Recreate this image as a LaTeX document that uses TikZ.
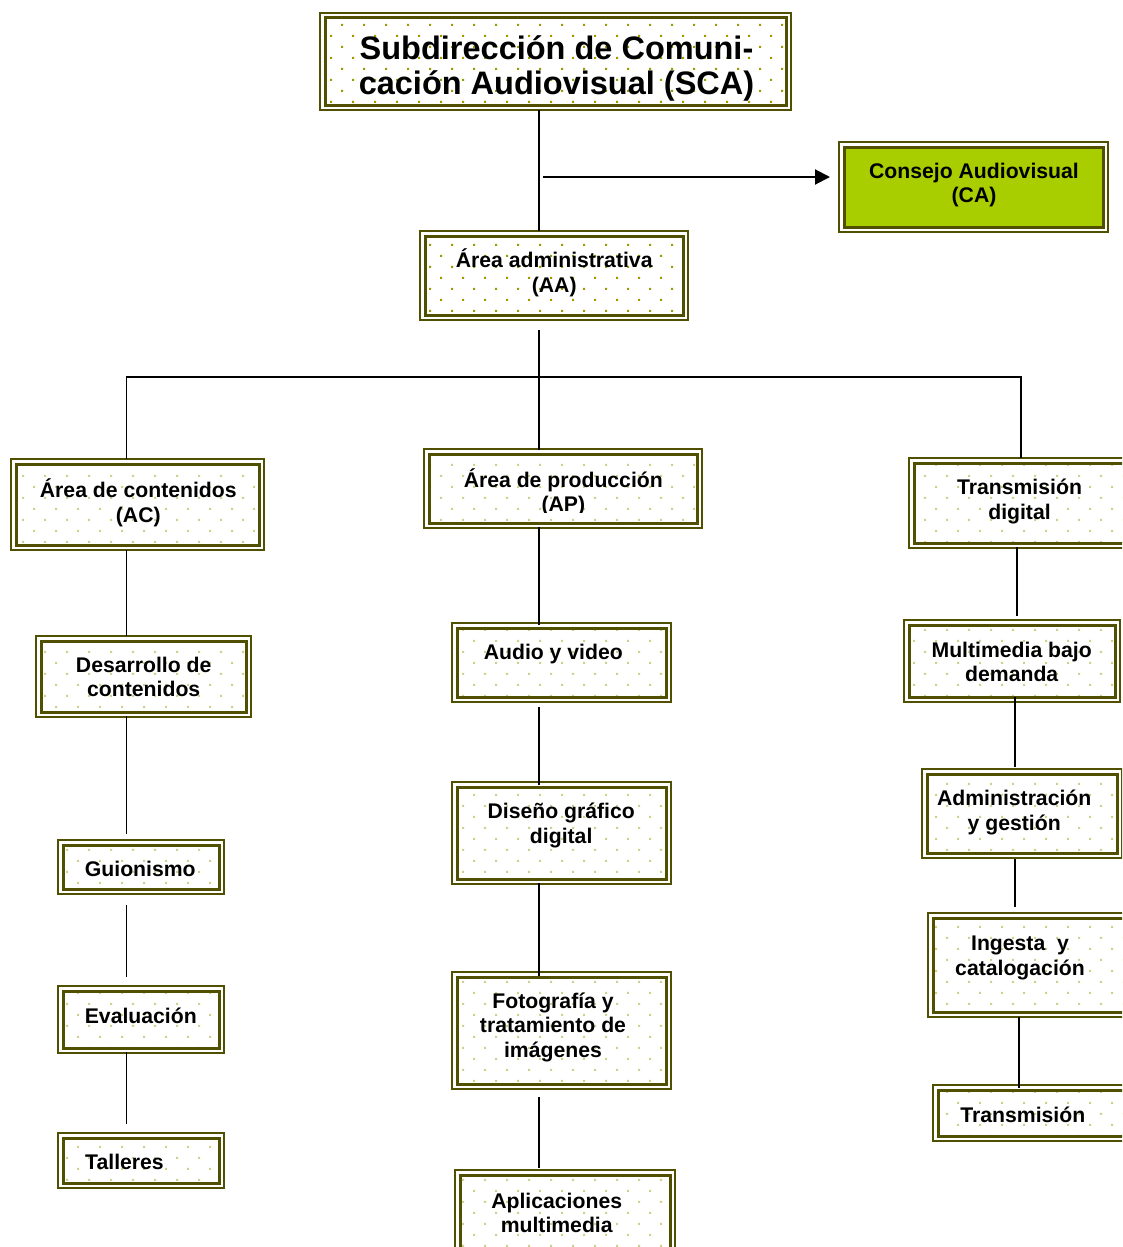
\documentclass[tikz,border=0pt]{standalone}
\usepackage{fontspec}
\setmainfont{Liberation Sans}
\usetikzlibrary{patterns,arrows.meta}
\definecolor{olv}{RGB}{80,80,0}
\definecolor{dotlight}{RGB}{208,208,140}
\definecolor{dotdark}{RGB}{155,155,0}
\definecolor{cagreen}{RGB}{168,206,0}
\pgfdeclarepatternformonly{sdots}{\pgfqpoint{-1pt}{-1pt}}{\pgfqpoint{23pt}{23pt}}{\pgfqpoint{22pt}{22pt}}{%
  \pgfpathrectangle{\pgfqpoint{0pt}{0pt}}{\pgfqpoint{2pt}{2pt}}%
  \pgfpathrectangle{\pgfqpoint{11pt}{11pt}}{\pgfqpoint{2pt}{2pt}}%
  \pgfusepath{fill}}
\tikzset{
  box/.style={rectangle, draw=olv, line width=3pt, inner sep=0pt, outer sep=0pt,
    preaction={fill=white}, pattern=sdots, pattern color=dotlight},
  darkbox/.style={box, pattern color=dotdark},
  cabox/.style={rectangle, draw=olv, line width=3pt, inner sep=0pt, outer sep=0pt, fill=cagreen},
  frame/.style={draw=olv, line width=1.2pt},
  lbl/.style={font=\fontsize{21.2}{24.5}\selectfont\bfseries, align=center, inner sep=0pt},
  title/.style={font=\fontsize{32.5}{35}\selectfont\bfseries, align=center, inner sep=0pt},
  conn/.style={line width=1.5pt, draw=black},
}
\newcommand{\bx}[6]{\node[#1, minimum width=#4pt, minimum height=#5pt] (#6) at (#2,#3) {};}
\begin{document}
\begin{tikzpicture}[x=1pt,y=-1pt]
\useasboundingbox (0,0) rectangle (1122,1247);
\clip (0,0) rectangle (1122,1247);
\fill[white] (0,0) rectangle (1122,1247);

% boxes (inner thick border)
\bx{darkbox}{555.5}{61.5}{461}{87}{sca}
\bx{cabox}{973.5}{187}{259}{80}{ca}
\bx{darkbox}{554}{275.5}{258}{79}{aa}
\bx{box}{137.5}{504.5}{243}{81}{ac}
\bx{box}{563}{488.5}{268}{69}{ap}
\bx{box}{1019.5}{503}{211}{80}{td}
\bx{box}{143.5}{676.5}{205}{71}{des}
\bx{box}{561.5}{662.5}{209}{69}{aud}
\bx{box}{1012}{661}{206}{72}{mul}
\bx{box}{141}{867}{156}{44}{gui}
\bx{box}{561.5}{833}{209}{92}{dis}
\bx{box}{1022}{813.5}{190}{79}{adm}
\bx{box}{141}{1019.5}{156}{57}{eva}
\bx{box}{561.5}{1030.5}{209}{107}{fot}
\bx{box}{1029}{965}{192}{94}{ing}
\bx{box}{141}{1160.5}{156}{45}{tal}
\bx{box}{565}{1214}{210}{78}{apl}
\bx{box}{1031.5}{1113}{187}{46}{tra}

% outer thin frames
\foreach \n in {sca,ca,aa,ac,ap,td,des,aud,mul,gui,dis,adm,eva,fot,ing,tal,apl,tra}
  \draw[frame] ([shift={(-5pt,5pt)}]\n.north west) rectangle ([shift={(5pt,-5pt)}]\n.south east);

% texts
\node[title] (t-sca) at (556.5,70) {\strut Subdirección de Comuni-\\\strut cación Audiovisual (SCA)};
\node[lbl] (t-ca) at (974,185.8) {\strut Consejo Audiovisual\\\strut (CA)};
\node[lbl] (t-aa) at (554.2,274.2) {\strut Área administrativa\\\strut (AA)};
\node[lbl] (t-ac) at (138.3,504.2) {\strut Área de contenidos\\\strut (AC)};
\begin{scope}
\clip (424,449) rectangle (702,512);
\node[lbl] (t-ap) at (563.3,493.8) {\strut Área de producción\\\strut (AP)};
\end{scope}
\node[lbl] (t-td) at (1019.5,502) {\strut Transmisión\\\strut digital};
\node[lbl] (t-des) at (143.7,679.7) {\strut Desarrollo de\\\strut contenidos};
\node[lbl] (t-aud) at (553.3,655) {\strut Audio y video};
\node[lbl] (t-mul) at (1011.7,664.5) {\strut Multimedia bajo\\\strut demanda};
\node[lbl] (t-gui) at (140.3,871.7) {\strut Guionismo};
\node[lbl] (t-dis) at (561.2,826) {\strut Diseño gráfico\\\strut digital};
\node[lbl] (t-adm) at (1014.2,813.3) {\strut Administración\\\strut y gestión};
\node[lbl] (t-eva) at (140.8,1019) {\strut Evaluación};
\node[lbl] (t-fot) at (553,1028) {\strut Fotografía y\\\strut tratamiento de\\\strut imágenes};
\node[lbl] (t-ing) at (1020,958.3) {\strut Ingesta\ \ y\\\strut catalogación};
\node[lbl] (t-tal) at (124.5,1165) {\strut Talleres};
\node[lbl] (t-apl) at (556.7,1215.5) {\strut Aplicaciones\\\strut multimedia};
\node[lbl] (t-tra) at (1022.8,1117.7) {\strut Transmisión};

% column coordinates
\coordinate (cL) at (126.5,0);
\coordinate (cM) at (539,0);
\coordinate (cR) at (1021,0);
\coordinate (cR1) at (1017,0);
\coordinate (cR2) at (1015,0);
\coordinate (cR3) at (1019,0);
\coordinate (hb) at (539,377);
\coordinate (arr) at (543,177);

% connectors
\draw[conn, shorten <=5pt, shorten >=5pt] (sca.south -| cM) -- (aa.north -| cM);
\draw[conn, line width=2pt, -{Triangle[length=15pt,width=15pt]}, shorten >=14pt] (arr) -- (arr -| ca.west);
\draw[conn, shorten <=15pt, shorten >=4pt] (aa.south -| cM) -- (ap.north -| cM);
\draw[conn, shorten <=5pt, shorten >=5pt] (ac.north -| cL) -- (cL |- hb) -- (cR |- hb) -- (td.north -| cR);
% left column
\draw[conn, shorten <=5pt, shorten >=5pt] (ac.south -| cL) -- (des.north -| cL);
\draw[conn, shorten <=4pt, shorten >=11pt] (des.south -| cL) -- (gui.north -| cL);
\draw[conn, shorten <=16pt, shorten >=14pt] (gui.south -| cL) -- (eva.north -| cL);
\draw[conn, shorten <=4pt, shorten >=14pt] (eva.south -| cL) -- (tal.north -| cL);
% middle column
\draw[conn, shorten <=4pt, shorten >=3pt] (ap.south -| cM) -- (aud.north -| cM);
\draw[conn, shorten <=10pt, shorten >=2pt] (aud.south -| cM) -- (dis.north -| cM);
\draw[conn, shorten <=4pt, shorten >=1pt] (dis.south -| cM) -- (fot.north -| cM);
\draw[conn, shorten <=13pt, shorten >=7pt] (fot.south -| cM) -- (apl.north -| cM);
% right column
\draw[conn, shorten <=4pt, shorten >=9pt] (td.south -| cR1) -- (mul.north -| cR1);
\draw[conn, shorten <=0pt, shorten >=7pt] (mul.south -| cR2) -- (adm.north -| cR2);
\draw[conn, shorten <=6pt, shorten >=11pt] (adm.south -| cR2) -- (ing.north -| cR2);
\draw[conn, shorten <=5pt, shorten >=2pt] (ing.south -| cR3) -- (tra.north -| cR3);
\end{tikzpicture}
\end{document}
